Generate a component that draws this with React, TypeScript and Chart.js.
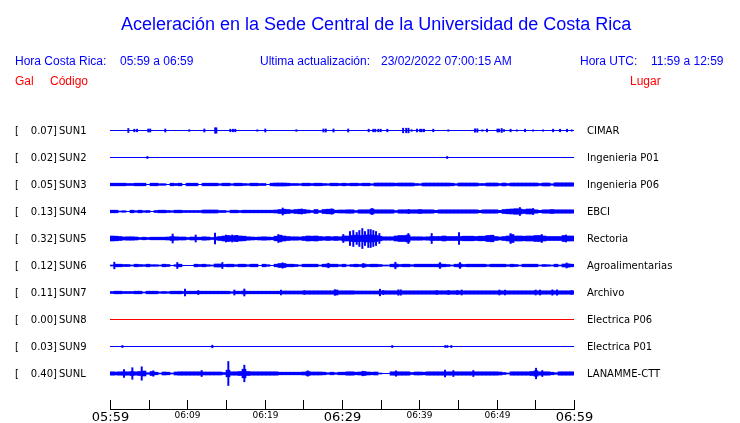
import React, { useEffect, useRef } from "react";
import { Chart, registerables } from "chart.js";

Chart.register(...registerables);

// ---------------- DATA ----------------
const stationCodes = ["SUN1", "SUN2", "SUN3", "SUN4", "SUN5", "SUN6", "SUN7", "SUN8", "SUN9", "SUNL"];
const peakGal = [0.07, 0.02, 0.05, 0.13, 0.32, 0.12, 0.11, 0.0, 0.03, 0.4];
const stationPlaces = [
  "CIMAR",
  "Ingenieria P01",
  "Ingenieria P06",
  "EBCI",
  "Rectoria",
  "Agroalimentarias",
  "Archivo",
  "Electrica P06",
  "Electrica P01",
  "LANAMME-CTT",
];

// time axis (minutes after 05:59)
const tickMinutes = [0, 5, 10, 15, 20, 25, 30, 35, 40, 45, 50, 55, 60];
const labelMinutes = [0, 10, 20, 30, 40, 50, 60];
const timeLabels = ["05:59", "06:09", "06:19", "06:29", "06:39", "06:49", "06:59"];
const majorLabelMinutes = [0, 30, 60];

// envelope of the noise band, 116 bins over the hour (relative amplitude)
const binsPerHour = 116;
const envSUN1: number[] = [];
const envSUN2: number[] = [];
const envSUN3 = [
  1.3, 1.3, 1.3, 1.3, 1, 1, 1.3, 1.3, 1.3, 0,
  1.3, 1.3, 0.8, 0.8, 0, 1.3, 1, 1.3, 0, 1.3,
  1.3, 1.3, 0, 1.3, 1.3, 1.3, 1.3, 0.8, 1.3, 1.3,
  0.8, 1.3, 1.3, 1, 0.8, 1.3, 1.3, 1, 1, 0,
  1.3, 1.5, 1.5, 1.5, 1.3, 1, 1, 0.8, 1.3, 1.3,
  1, 1.3, 1.3, 1, 0.8, 1.3, 1.3, 1, 1.3, 1,
  1.3, 1.3, 1, 1.3, 1.3, 0.8, 1.5, 1.5, 1.5, 1.5,
  1.5, 1.3, 1.5, 1.5, 1.5, 1.5, 1, 0.8, 1.5, 1.5,
  1.5, 1.5, 1.5, 1.5, 1.5, 1.3, 0.8, 1.5, 1.5, 1.5,
  1.5, 1.5, 1, 1, 1.5, 1.5, 1.5, 1, 1.5, 1,
  1.5, 1.5, 1.5, 1.5, 1.5, 1.5, 1.5, 1, 1.5, 1.5,
  0.8, 1.7, 1.7, 1.7, 1.7, 1.7,
];
const envSUN4 = [
  1.3, 1.3, 0.5, 0.8, 0, 1.3, 0.8, 1.3, 0.8, 1,
  0, 1, 1.3, 1.3, 1, 0.8, 1.3, 1.3, 1, 1,
  1, 1, 1, 1.5, 1.5, 1.5, 1.5, 1, 1, 0.5,
  1.3, 1.3, 1, 1.3, 1.3, 1.3, 1.3, 1.3, 1.3, 1.3,
  1.3, 1.5, 2, 2.3, 2, 1.5, 2, 2.3, 2, 1.5,
  1, 2, 1, 2, 2.3, 2.3, 1.3, 1.5, 1.5, 1.7,
  1.7, 1, 1.7, 1.7, 1.7, 2.5, 1.7, 1.7, 1.7, 1.7,
  1.7, 1, 1.7, 1.7, 1.7, 1.7, 1.7, 2, 1.7, 1.7,
  1.7, 1.2, 1.7, 1.7, 1.7, 1.7, 1.7, 1.7, 1.7, 1.7,
  1.7, 1.7, 1.2, 1.7, 1.7, 1.7, 1.7, 1.2, 2, 2.3,
  2.5, 2.8, 2.5, 2, 2.5, 2.5, 1.7, 1.2, 1.7, 1.7,
  2, 1.7, 1.7, 1.7, 1.7, 1.7,
];
const envSUN5 = [
  2.5, 2.3, 2, 1.5, 1.7, 1.7, 1.5, 1, 1.3, 1,
  1.3, 1.3, 1.3, 1.3, 1.5, 2, 1.7, 1.5, 1.5, 1,
  1.5, 1.3, 1.3, 1.7, 1.5, 1, 1.5, 2, 2.5, 3,
  2.5, 3, 2.5, 2.3, 1.7, 1.5, 1.3, 1.5, 1.7, 1.5,
  1.3, 2.3, 3.3, 2.5, 2, 1.7, 1.7, 1.5, 2, 2.5,
  2.3, 2.5, 2, 1.7, 2, 1.7, 2, 1.7, 2.5, 2.5,
  3, 3.3, 3, 3.3, 3.5, 3.5, 3, 2.3, 1.7, 1.7,
  1.7, 2.5, 3, 3, 3.5, 1.7, 1.7, 1.7, 1.5, 1.7,
  2, 2, 2, 2.5, 2, 2, 2, 2, 2.3, 2.3,
  2.3, 2, 2.3, 2.3, 3, 3.3, 2, 1.5, 2, 2.5,
  4, 2.5, 2.5, 2.3, 2.5, 2.5, 3, 3, 2.5, 2,
  2, 2, 2, 3, 2.5, 2.5,
];
const envSUN6 = [
  0.5, 1.3, 1.3, 1, 1, 0.5, 1.3, 1, 0.8, 1.3,
  0.8, 0.8, 0.5, 1.3, 1, 0, 0.8, 1.3, 0, 0,
  0, 1.3, 1, 1.3, 0.8, 0.5, 1.5, 1.5, 1, 1.3,
  1.3, 0.8, 1.3, 1.3, 0.8, 1.3, 1.3, 0, 1.3, 0.8,
  0, 1.3, 2, 2, 1.3, 1.3, 1, 0.5, 1.3, 1.3,
  1.3, 1.3, 0.5, 1.3, 1.5, 1.3, 1.3, 0.8, 1.3, 0.5,
  1, 1.3, 1, 1.5, 1, 1.3, 1.3, 1, 0.5, 0.5,
  1.3, 1.5, 1, 1.3, 1.3, 0.8, 1.3, 1.3, 1.3, 1.3,
  1.3, 1.3, 1.5, 1.3, 1, 0.5, 1.3, 1.5, 1, 1.3,
  1.3, 1.3, 1.3, 1.3, 0.8, 1.3, 1.3, 1.3, 1.3, 0.8,
  1.3, 1, 0.5, 1.3, 1.3, 1.3, 1.3, 0.5, 1, 0.8,
  0.5, 1.3, 0.5, 1.5, 1.7, 1.3,
];
const envSUN7 = [
  1, 1.3, 1.3, 1, 1, 1, 1.3, 1.3, 0.5, 1.3,
  1.3, 1.3, 0.8, 1, 0.8, 1.3, 1.3, 1.3, 1, 1.3,
  1.3, 1.3, 1.3, 1.3, 1.3, 1.3, 1.3, 1.3, 1.3, 1.3,
  0.8, 1.3, 1.3, 1.5, 1.3, 1.3, 1.3, 1.3, 1.3, 1.3,
  1.3, 1.3, 1.3, 1.5, 1.5, 1.5, 1.5, 1.5, 1.5, 1.7,
  1.7, 1.7, 1.7, 1.7, 1.7, 1.7, 2.5, 1.7, 1.7, 1.7,
  1.7, 1.5, 1.5, 1.5, 1.5, 1.5, 1.5, 1.5, 1.7, 1.7,
  1.7, 1.7, 1.7, 1.7, 1.7, 1.7, 1.7, 1.7, 1.7, 1.7,
  1.7, 1.7, 1.7, 1.7, 1.7, 1.7, 1.7, 1.7, 1.7, 1.7,
  1.7, 1.7, 1.7, 1.7, 1.7, 1.7, 1.7, 1.7, 1.7, 1.7,
  1.7, 1.7, 1.7, 1.7, 1.7, 1.7, 1.7, 1.7, 1.7, 1.7,
  1.7, 1.7, 1.7, 1.7, 1.7, 1.7,
];
const envSUN8: number[] = [];
const envSUN9: number[] = [];
const envSUNL = [
  1.7, 1.5, 1.7, 1.7, 1.7, 2, 1.7, 2, 2.5, 0.8,
  2, 1.3, 0.5, 1.5, 1.3, 0.5, 1.5, 1.7, 1.7, 1.7,
  1.7, 1.7, 1.7, 1.5, 1.5, 1.5, 1.5, 1.5, 1, 3.3,
  1.7, 1.7, 2, 4.3, 2, 1.7, 1.7, 1.7, 1.7, 1.7,
  1.7, 1.7, 1.3, 1.3, 1.3, 1.3, 1.3, 1.3, 1.5, 2,
  1.5, 1.5, 1.5, 1.3, 0.8, 1.3, 0.8, 1.3, 1.3, 1.7,
  1.7, 1.3, 1.5, 2, 1.5, 1.3, 1.5, 0.5, 0, 0,
  1.7, 1.7, 1.7, 1.7, 1.7, 1, 1.5, 1.5, 1.3, 1.7,
  1.7, 1.7, 1.7, 1.7, 1.7, 1.7, 1.7, 1.7, 1.7, 1.7,
  1.7, 1.7, 1.7, 1.7, 1.7, 1.7, 1.7, 1.5, 1, 0.5,
  1.7, 1.7, 1.7, 1.7, 1.7, 2, 2.7, 1.7, 1.7, 1.7,
  1.3, 0.8, 1.7, 1.7, 1.7, 1.7,
];

// isolated peaks: [minute after 05:59, relative amplitude]
const spkSUN1 = [
  [2.37, 2], [3.15, 1.3], [3.5, 1.3], [4.95, 1.5], [5.2, 1.5], [7.15, 1.5], [10.25, 0.8],
  [12.2, 1.5], [13.6, 2.7], [13.75, 2.7], [15.56, 1.3], [15.9, 1.3], [16.2, 1.3], [19.05, 0.7],
  [20.08, 1.5], [24.1, 0.8], [27.6, 1.5], [27.9, 1.5], [28.9, 1.5], [30.8, 1.5], [33.45, 1.3],
  [34.05, 1.3], [34.3, 1.3], [34.7, 1.3], [35.0, 1.3], [35.86, 1.3], [37.9, 2.3], [38.3, 2.3],
  [38.6, 2.3], [39.0, 0.8], [39.7, 1.3], [40.1, 1.3], [40.3, 1.3], [40.6, 1.3], [41.8, 1.3],
  [43.75, 0.7], [47.2, 1.7], [47.5, 1.7], [48.15, 0.7], [48.75, 1.5], [50.1, 1.5], [50.3, 1.5],
  [50.65, 2], [50.95, 1], [51.8, 1.3], [52.6, 0.7], [53.67, 1.3], [54.7, 0.7], [56.0, 0.7],
  [57.3, 1.3], [58.2, 1.3], [59.1, 1.3], [59.7, 0.7],
];
const spkSUN2 = [[4.83, 1], [43.6, 1]];
const spkSUN3: number[][] = [];
const spkSUN4 = [[22.33, 3.5], [24.8, 2.5], [28.66, 2.7], [33.9, 3], [38.6, 2], [53.0, 4], [54.7, 3]];
const spkSUN5 = [
  [8.1, 4.5], [11.08, 3.5], [13.58, 5.5], [15.0, 3.3], [15.8, 3.5], [16.4, 3], [21.77, 4],
  [30.17, 4], [31.03, 7], [31.46, 8], [31.9, 6], [32.24, 8], [32.63, 10], [32.97, 7], [33.4, 9],
  [33.71, 9], [34.05, 8], [34.4, 7], [34.83, 5], [38.58, 5], [41.6, 5], [45.13, 6], [51.8, 5],
  [55.83, 4], [58.97, 3.5],
];
const spkSUN6 = [
  [0.56, 3.3], [8.7, 3], [14.53, 3], [22.33, 2.7], [28.23, 2.3], [32.76, 2], [36.9, 3.3],
  [42.67, 3], [45.26, 3], [59.05, 2.5],
];
const spkSUN7 = [
  [9.7, 3.3], [11.42, 2], [16.08, 2.5], [17.37, 3.5], [22.11, 2.5], [25.13, 2], [29.1, 2.7],
  [34.91, 3.3], [35.34, 2], [37.28, 2.7], [37.59, 2.7], [42.24, 2], [43.75, 2], [44.91, 2],
  [45.47, 2.5], [50.35, 2.5], [51.08, 2.5], [55.05, 2.5], [55.6, 2.5], [57.2, 2.7], [57.8, 2.7],
  [59.7, 2],
];
const spkSUN8: number[][] = [];
const spkSUN9 = [[1.6, 1], [13.23, 1.3], [36.5, 1], [43.36, 1], [43.62, 1], [44.13, 1]];
const spkSUNL = [
  [1.81, 4], [2.89, 5.8], [4.1, 6.7], [5.6, 2.7], [11.85, 3], [15.3, 12], [17.37, 8.3],
  [25.56, 2.7], [32.67, 2.3], [36.98, 2.7], [43.32, 3.3], [44.4, 3], [46.98, 3], [55.09, 5.3],
  [55.9, 3],
];

const envelopes = [envSUN1, envSUN2, envSUN3, envSUN4, envSUN5, envSUN6, envSUN7, envSUN8, envSUN9, envSUNL];
const spikes = [spkSUN1, spkSUN2, spkSUN3, spkSUN4, spkSUN5, spkSUN6, spkSUN7, spkSUN8, spkSUN9, spkSUNL];

// ---------------- STYLE / LAYOUT ----------------
const ROW = 27;
const BLUE = "#0000ff";
const RED = "#ff0000";
const SANS = '"Liberation Sans", Arial, Helvetica, sans-serif';
const DEJAVU = '"DejaVu Sans", sans-serif';

function buildDatasets(): any[] {
  const ds: any[] = [];
  stationCodes.forEach((_code, k) => {
    const off = k * ROW;
    const color = peakGal[k] === 0 ? RED : BLUE;
    ds.push({
      type: "line",
      data: [
        { x: 0, y: off },
        { x: 60, y: off },
      ],
      borderColor: color,
      borderWidth: 1,
      pointRadius: 0,
      tension: 0,
    });
    const env = envelopes[k];
    const envData: any[] = [];
    env.forEach((a, i) => {
      if (a > 0) envData.push({ x: ((i + 0.5) * 60) / binsPerHour, y: [off - a, off + a] });
    });
    ds.push({
      type: "bar",
      data: envData,
      backgroundColor: color,
      borderWidth: 0,
      barThickness: 4,
      grouped: false,
    });
    ds.push({
      type: "bar",
      data: spikes[k].map(([t, a]) => ({ x: t, y: [off - a, off + a] })),
      backgroundColor: color,
      borderWidth: 0,
      barThickness: 1.3,
      grouped: false,
    });
  });
  return ds;
}

const labelsPlugin = {
  id: "seismoLabels",
  afterDraw(chart: any) {
    const ctx = chart.ctx as CanvasRenderingContext2D;
    const xs = chart.scales.x;
    const ys = chart.scales.y;
    ctx.save();
    ctx.fillStyle = "#000";
    ctx.font = `10px ${DEJAVU}`;
    ctx.textBaseline = "alphabetic";
    stationCodes.forEach((code, k) => {
      const py = Math.floor(ys.getPixelForValue(k * ROW)) + 4;
      ctx.textAlign = "left";
      ctx.fillText("[", 15, py);
      ctx.textAlign = "right";
      ctx.fillText(peakGal[k].toFixed(2) + "]", 57, py);
      ctx.textAlign = "left";
      ctx.fillText(code, 59, py);
      ctx.fillText(stationPlaces[k], 587, py);
    });

    // time axis
    const axisY = chart.chartArea.bottom;
    ctx.strokeStyle = "#000";
    ctx.lineWidth = 1;
    ctx.beginPath();
    ctx.moveTo(Math.round(xs.getPixelForValue(0)), axisY + 0.5);
    ctx.lineTo(Math.round(xs.getPixelForValue(60)) + 1, axisY + 0.5);
    tickMinutes.forEach((m) => {
      const px = Math.round(xs.getPixelForValue(m)) + 0.5;
      ctx.moveTo(px, axisY - 9);
      ctx.lineTo(px, axisY + 1);
    });
    ctx.stroke();
    ctx.textAlign = "center";
    labelMinutes.forEach((m, i) => {
      const px = Math.round(xs.getPixelForValue(m)) + 0.5;
      if (majorLabelMinutes.includes(m)) {
        ctx.font = `13px ${DEJAVU}`;
        ctx.fillText(timeLabels[i], px, axisY + 12);
      } else {
        ctx.font = `9px ${DEJAVU}`;
        ctx.fillText(timeLabels[i], px, axisY + 9);
      }
    });
    ctx.restore();
  },
};

export default function App() {
  const canvasRef = useRef<HTMLCanvasElement | null>(null);

  useEffect(() => {
    document.body.style.margin = "0";
    const canvas = canvasRef.current;
    if (!canvas) return;
    const chart = new Chart(canvas, {
      type: "bar",
      data: { datasets: buildDatasets() },
      options: {
        animation: false,
        responsive: false,
        devicePixelRatio: 1,
        events: [],
        layout: { padding: { left: 110, right: 166, top: 117, bottom: 14 } },
        plugins: { legend: { display: false }, tooltip: { enabled: false }, title: { display: false } },
        scales: {
          x: { type: "linear", min: 0, max: 60, offset: false, display: false },
          y: { type: "linear", min: -13.5, max: 278.5, reverse: true, display: false },
        },
      } as any,
      plugins: [labelsPlugin],
    });
    return () => chart.destroy();
  }, []);

  const txt = (s: string, left: number, top: number, size: number, color: string): React.ReactNode => (
    <span
      style={{
        position: "absolute",
        left,
        top,
        fontFamily: SANS,
        fontSize: size,
        lineHeight: `${size}px`,
        color,
        whiteSpace: "pre",
      }}
    >
      {s}
    </span>
  );

  return (
    <div style={{ position: "relative", width: 740, height: 423, background: "#fff", overflow: "hidden" }}>
      <canvas ref={canvasRef} width={740} height={423} style={{ position: "absolute", left: 0, top: 0 }} />
      {txt("Aceleración en la Sede Central de la Universidad de Costa Rica", 121, 15, 18, BLUE)}
      {txt("Hora Costa Rica:", 15, 55, 12, BLUE)}
      {txt("05:59 a 06:59", 120, 55, 12, BLUE)}
      {txt("Ultima actualización:", 260, 55, 12, BLUE)}
      {txt("23/02/2022 07:00:15 AM", 381, 55, 12, BLUE)}
      {txt("Hora UTC:", 580, 55, 12, BLUE)}
      {txt("11:59 a 12:59", 651, 55, 12, BLUE)}
      {txt("Gal", 15, 75, 12, RED)}
      {txt("Código", 50, 75, 12, RED)}
      {txt("Lugar", 630, 75, 12, RED)}
    </div>
  );
}
